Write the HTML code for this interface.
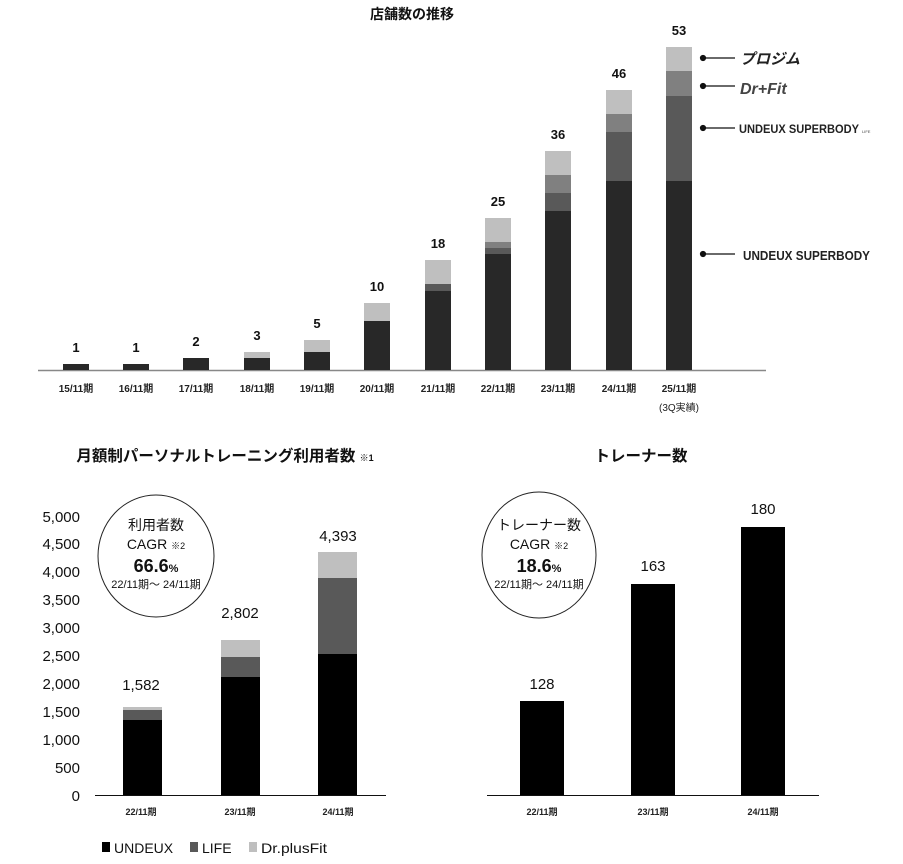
<!DOCTYPE html>
<html><head><meta charset="utf-8"><style>
body{margin:0;background:#fff;}
svg{display:block;font-family:"Liberation Sans","Noto Sans CJK JP",sans-serif;}
.b{font-weight:bold;}
</style></head><body>
<svg width="903" height="864" viewBox="0 0 903 864" xmlns="http://www.w3.org/2000/svg">
<text x="412" y="19" font-size="14" class="b" text-anchor="middle" fill="#111">店舗数の推移</text>
<line x1="38" y1="370.5" x2="766" y2="370.5" stroke="#888" stroke-width="1.5"/>
<g fill="#282828">
<rect x="63" y="364" width="26" height="6"/>
<rect x="123" y="364" width="26" height="6"/>
<rect x="183" y="358" width="26" height="12"/>
<rect x="244" y="358" width="26" height="12"/>
<rect x="304" y="352" width="26" height="18"/>
<rect x="364" y="321" width="26" height="49"/>
<rect x="425" y="291" width="26" height="79"/>
<rect x="485" y="254" width="26" height="116"/>
<rect x="545" y="211" width="26" height="159"/>
<rect x="606" y="181" width="26" height="189"/>
<rect x="666" y="181" width="26" height="189"/>
</g>
<g fill="#bfbfbf">
<rect x="244" y="352" width="26" height="6"/>
<rect x="304" y="340" width="26" height="12"/>
<rect x="364" y="303" width="26" height="18"/>
<rect x="425" y="260" width="26" height="24"/>
<rect x="485" y="218" width="26" height="24"/>
<rect x="545" y="151" width="26" height="24"/>
<rect x="606" y="90" width="26" height="24"/>
<rect x="666" y="47" width="26" height="24"/>
</g>
<g fill="#595959">
<rect x="425" y="284" width="26" height="7"/>
<rect x="485" y="248" width="26" height="6"/>
<rect x="545" y="193" width="26" height="18"/>
<rect x="606" y="132" width="26" height="49"/>
<rect x="666" y="96" width="26" height="85"/>
</g>
<g fill="#808080">
<rect x="485" y="242" width="26" height="6"/>
<rect x="545" y="175" width="26" height="18"/>
<rect x="606" y="114" width="26" height="18"/>
<rect x="666" y="71" width="26" height="25"/>
</g>
<g font-size="13" class="b" text-anchor="middle" fill="#111">
<text x="76" y="352">1</text><text x="136" y="352">1</text><text x="196" y="346">2</text>
<text x="257" y="340">3</text><text x="317" y="328">5</text><text x="377" y="291">10</text>
<text x="438" y="248">18</text><text x="498" y="206">25</text><text x="558" y="139">36</text>
<text x="619" y="78">46</text><text x="679" y="35">53</text>
</g>
<g font-size="10" class="b" text-anchor="middle" fill="#222">
<text x="76" y="392">15/11期</text><text x="136" y="392">16/11期</text><text x="196" y="392">17/11期</text>
<text x="257" y="392">18/11期</text><text x="317" y="392">19/11期</text><text x="377" y="392">20/11期</text>
<text x="438" y="392">21/11期</text><text x="498" y="392">22/11期</text><text x="558" y="392">23/11期</text>
<text x="619" y="392">24/11期</text><text x="679" y="392">25/11期</text>
<text x="679" y="411" font-weight="normal">(3Q実績)</text>
</g>
<g stroke="#111" stroke-width="1.2" fill="#111">
<circle cx="703" cy="58" r="2.5"/><line x1="703" y1="58" x2="735" y2="58"/>
<circle cx="703" cy="86" r="2.5"/><line x1="703" y1="86" x2="735" y2="86"/>
<circle cx="703" cy="128" r="2.5"/><line x1="703" y1="128" x2="735" y2="128"/>
<circle cx="703" cy="254" r="2.5"/><line x1="703" y1="254" x2="735" y2="254"/>
</g>
<text x="740" y="64" font-size="15" class="b" font-style="italic" fill="#222">プロジム</text>
<text x="740" y="94" font-size="16" class="b" font-style="italic" fill="#444">Dr+Fit</text>
<text x="739" y="133" font-size="12" class="b" fill="#222" textLength="120" lengthAdjust="spacingAndGlyphs">UNDEUX SUPERBODY</text>
<text x="862" y="133" font-size="4" fill="#444">LIFE</text>
<text x="743" y="260" font-size="13" class="b" fill="#222" textLength="127" lengthAdjust="spacingAndGlyphs">UNDEUX SUPERBODY</text>

<text x="225" y="461" font-size="15.5" class="b" text-anchor="middle" fill="#111">月額制パーソナルトレーニング利用者数 <tspan font-size="9">※1</tspan></text>
<line x1="95" y1="795.5" x2="386" y2="795.5" stroke="#111" stroke-width="1"/>
<g font-size="15" text-anchor="end" fill="#111">
<text x="80" y="522">5,000</text><text x="80" y="549">4,500</text><text x="80" y="577">4,000</text>
<text x="80" y="605">3,500</text><text x="80" y="633">3,000</text><text x="80" y="661">2,500</text>
<text x="80" y="689">2,000</text><text x="80" y="717">1,500</text><text x="80" y="745">1,000</text>
<text x="80" y="773">500</text><text x="80" y="801">0</text>
</g>
<rect x="123" y="720" width="39" height="75" fill="#000"/>
<rect x="123" y="710" width="39" height="10" fill="#595959"/>
<rect x="123" y="707" width="39" height="3" fill="#bfbfbf"/>
<rect x="221" y="677" width="39" height="118" fill="#000"/>
<rect x="221" y="657" width="39" height="20" fill="#595959"/>
<rect x="221" y="640" width="39" height="17" fill="#bfbfbf"/>
<rect x="318" y="654" width="39" height="141" fill="#000"/>
<rect x="318" y="578" width="39" height="76" fill="#595959"/>
<rect x="318" y="552" width="39" height="26" fill="#bfbfbf"/>
<g font-size="15" text-anchor="middle" fill="#111">
<text x="141" y="690">1,582</text><text x="240" y="618">2,802</text><text x="338" y="541">4,393</text>
</g>
<g font-size="9" class="b" text-anchor="middle" fill="#222">
<text x="141" y="815">22/11期</text><text x="240" y="815">23/11期</text><text x="338" y="815">24/11期</text>
</g>
<ellipse cx="156" cy="556" rx="58" ry="61" fill="none" stroke="#222" stroke-width="1"/>
<g text-anchor="middle" fill="#111">
<text x="156" y="530" font-size="14">利用者数</text>
<text x="156" y="549" font-size="14">CAGR <tspan font-size="9">※2</tspan></text>
<text x="156" y="572" font-size="18" class="b">66.6<tspan font-size="11">%</tspan></text>
<text x="156" y="588" font-size="11">22/11期～ 24/11期</text>
</g>
<g font-size="14" fill="#111">
<rect x="102" y="842" width="8" height="10" fill="#000"/><text x="114" y="853">UNDEUX</text>
<rect x="190" y="842" width="8" height="10" fill="#595959"/><text x="202" y="853">LIFE</text>
<rect x="249" y="842" width="8" height="10" fill="#bfbfbf"/><text x="261" y="853" textLength="66" lengthAdjust="spacingAndGlyphs">Dr.plusFit</text>
</g>

<text x="641" y="461" font-size="15.5" class="b" text-anchor="middle" fill="#111">トレーナー数</text>
<line x1="487" y1="795.5" x2="819" y2="795.5" stroke="#111" stroke-width="1"/>
<rect x="520" y="701" width="44" height="94" fill="#000"/>
<rect x="631" y="584" width="44" height="211" fill="#000"/>
<rect x="741" y="527" width="44" height="268" fill="#000"/>
<g font-size="15" text-anchor="middle" fill="#111">
<text x="542" y="689">128</text><text x="653" y="571">163</text><text x="763" y="514">180</text>
</g>
<g font-size="9" class="b" text-anchor="middle" fill="#222">
<text x="542" y="815">22/11期</text><text x="653" y="815">23/11期</text><text x="763" y="815">24/11期</text>
</g>
<ellipse cx="539" cy="555" rx="57" ry="63" fill="none" stroke="#222" stroke-width="1"/>
<g text-anchor="middle" fill="#111">
<text x="539" y="530" font-size="14">トレーナー数</text>
<text x="539" y="549" font-size="14">CAGR <tspan font-size="9">※2</tspan></text>
<text x="539" y="572" font-size="18" class="b">18.6<tspan font-size="11">%</tspan></text>
<text x="539" y="588" font-size="11">22/11期～ 24/11期</text>
</g>
</svg>
</body></html>
